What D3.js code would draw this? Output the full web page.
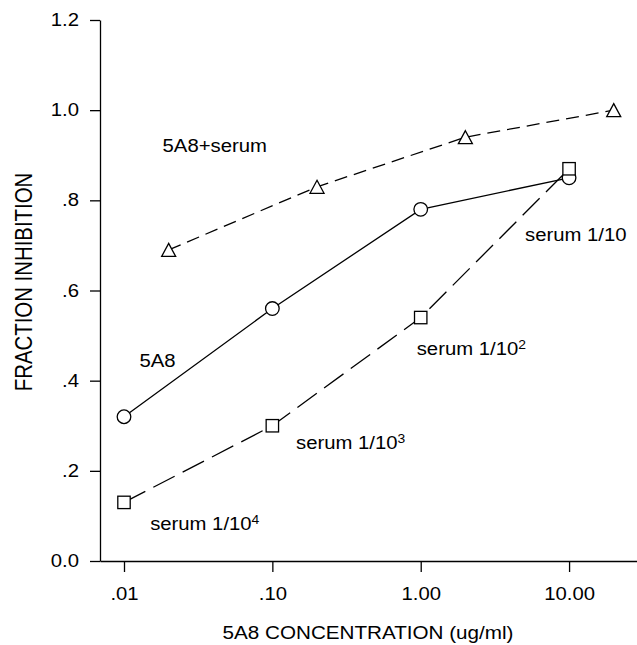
<!DOCTYPE html>
<html>
<head>
<meta charset="utf-8">
<script src="https://cdn.jsdelivr.net/npm/d3@7"></script>
<style>
  body { margin: 0; background: #fff; }
  svg { display: block; font-family: "Liberation Sans", Arial, sans-serif; }
  .axis path, .axis line { stroke: #000; stroke-width: 1.3; }
  .axis text { fill: #000; font-size: 17.5px; }
</style>
</head>
<body>
<script>
// tick values + labels
var xTicks = [0.01, 0.1, 1, 10];
var xTickLabels = [".01", ".10", "1.00", "10.00"];
var yTicks = [0, 0.2, 0.4, 0.6, 0.8, 1.0, 1.2];
var yTickLabels = ["0.0", ".2", ".4", ".6", ".8", "1.0", "1.2"];

// 5A8 alone (circles)
var conc5A8 = [0.01, 0.1, 1, 10];
var inhib5A8 = [0.32, 0.56, 0.78, 0.85];
// serum dilutions (squares)
var concSerum = [0.01, 0.1, 1, 10];
var inhibSerum = [0.13, 0.30, 0.54, 0.87];
// 5A8 + serum (triangles)
var concCombo = [0.02, 0.2, 2, 20];
var inhibCombo = [0.69, 0.83, 0.94, 1.0];

// annotation text, anchored in data space
var labelText = ["5A8+serum", "5A8", "serum 1/10", "serum 1/10", "serum 1/10", "serum 1/10"];
var labelSup = ["", "", "", "2", "3", "4"];
var labelX = [0.0182, 0.0127, 5.05, 0.94, 0.1444, 0.015];
var labelY = [0.908, 0.43, 0.71, 0.457, 0.248, 0.069];

var width = 637, height = 645;
var stretch = 1.16;

var x = d3.scaleLog().domain([0.00689, 28.7]).range([100, 637]);
var y = d3.scaleLinear().domain([0, 1.2]).range([561, 20]);

var svg = d3.select("body").append("svg")
    .attr("width", width)
    .attr("height", height);

var xAxis = d3.axisBottom(x)
    .tickValues(xTicks)
    .tickFormat(function(d, i) { return xTickLabels[i]; })
    .tickSize(11)
    .tickSizeOuter(0)
    .tickPadding(16);

var yAxis = d3.axisLeft(y)
    .tickValues(yTicks)
    .tickFormat(function(d, i) { return yTickLabels[i]; })
    .tickSize(10)
    .tickSizeOuter(0)
    .tickPadding(11);

var gx = svg.append("g")
    .attr("class", "x axis")
    .attr("transform", "translate(0," + y(0) + ")")
    .call(xAxis);

var gy = svg.append("g")
    .attr("class", "y axis")
    .attr("transform", "translate(" + x.range()[0] + ",0)")
    .call(yAxis);

// the scan is a bit wider than tall, so widen the text
function widen(sel) {
  sel.each(function() {
    var t = d3.select(this);
    var tx = +t.attr("x") || 0, ty = +t.attr("y") || 0;
    t.attr("x", 0).attr("y", 0)
     .attr("transform", "translate(" + tx + "," + ty + ") scale(" + stretch + ",1)");
  });
}
gx.selectAll(".tick text").call(widen);
gy.selectAll(".tick text").call(widen);

// axis titles
svg.append("text")
    .attr("transform", "translate(" + 368 + ",639) scale(" + stretch + ",1)")
    .attr("text-anchor", "middle")
    .style("font-size", "17.8px")
    .text("5A8 CONCENTRATION (ug/ml)");

svg.append("text")
    .attr("transform", "translate(32,282) scale(" + stretch + ",1) rotate(-90)")
    .attr("text-anchor", "middle")
    .style("font-size", "20.4px")
    .text("FRACTION INHIBITION");

var line = d3.line()
    .x(function(d) { return x(d[0]); })
    .y(function(d) { return y(d[1]); });

var combo = d3.zip(concCombo, inhibCombo);
var alone = d3.zip(conc5A8, inhib5A8);
var serum = d3.zip(concSerum, inhibSerum);

svg.append("path")
    .datum(combo)
    .attr("d", line)
    .attr("fill", "none")
    .attr("stroke", "#000")
    .attr("stroke-width", 1.3)
    .attr("stroke-dasharray", "13,7");

svg.append("path")
    .datum(alone)
    .attr("d", line)
    .attr("fill", "none")
    .attr("stroke", "#000")
    .attr("stroke-width", 1.3);

svg.append("path")
    .datum(serum)
    .attr("d", line)
    .attr("fill", "none")
    .attr("stroke", "#000")
    .attr("stroke-width", 1.3)
    .attr("stroke-dasharray", "24,9");

svg.selectAll(".tri")
    .data(combo)
  .enter().append("path")
    .attr("class", "tri")
    .attr("transform", function(d) { return "translate(" + x(d[0]) + "," + y(d[1]) + ")"; })
    .attr("d", "M0,-6.5L7,6.5L-7,6.5Z")
    .attr("fill", "#fff")
    .attr("stroke", "#000")
    .attr("stroke-width", 1.3);

svg.selectAll(".dot")
    .data(alone)
  .enter().append("circle")
    .attr("class", "dot")
    .attr("cx", function(d) { return x(d[0]); })
    .attr("cy", function(d) { return y(d[1]); })
    .attr("r", 6.8)
    .attr("fill", "#fff")
    .attr("stroke", "#000")
    .attr("stroke-width", 1.3);

svg.selectAll(".sq")
    .data(serum)
  .enter().append("rect")
    .attr("class", "sq")
    .attr("x", function(d) { return x(d[0]) - 6.2; })
    .attr("y", function(d) { return y(d[1]) - 6.2; })
    .attr("width", 12.4)
    .attr("height", 12.4)
    .attr("fill", "#fff")
    .attr("stroke", "#000")
    .attr("stroke-width", 1.3);

// annotations
var labels = svg.selectAll(".lbl")
    .data(labelText)
  .enter().append("text")
    .attr("class", "lbl")
    .attr("transform", function(d, i) {
      return "translate(" + x(labelX[i]) + "," + y(labelY[i]) + ") scale(" + stretch + ",1)";
    })
    .style("font-size", "17.5px");

labels.append("tspan").text(function(d) { return d; });
labels.append("tspan")
    .attr("dy", -6)
    .style("font-size", "12px")
    .text(function(d, i) { return labelSup[i]; });
</script>
</body>
</html>
